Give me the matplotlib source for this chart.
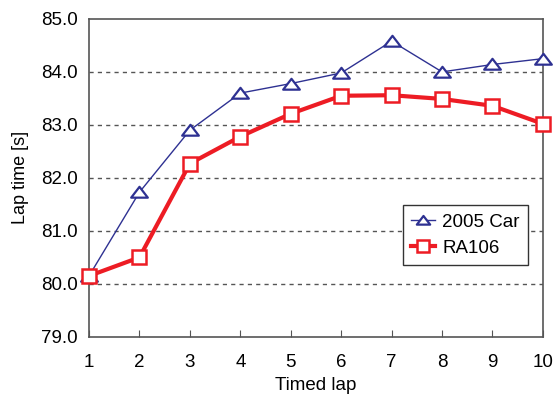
import matplotlib
matplotlib.use("Agg")
import matplotlib.pyplot as plt
from matplotlib.path import Path

laps = [1, 2, 3, 4, 5, 6, 7, 8, 9, 10]
car2005 = [80.15, 81.73, 82.9, 83.6, 83.78, 83.98, 84.58, 84.0, 84.14, 84.25]
ra106 = [80.15, 80.5, 82.27, 82.78, 83.21, 83.55, 83.56, 83.49, 83.36, 83.02]
yticks = [79.0, 80.0, 81.0, 82.0, 83.0, 84.0, 85.0]

plt.rcParams['font.family'] = ['Liberation Sans', 'DejaVu Sans']

fig = plt.figure(figsize=(5.54, 3.94), dpi=100)
ax = fig.add_axes([0.1607, 0.145, 0.8193, 0.807])

for y in yticks[1:-1]:
    ax.axhline(y, color='#555555', lw=1.0, ls=(0, (3, 3)), zorder=1)

tri = Path([(-1, -0.62), (1, -0.62), (0, 0.68), (-1, -0.62)],
           [Path.MOVETO, Path.LINETO, Path.LINETO, Path.CLOSEPOLY])

ax.plot(laps, car2005, color='#2E3192', lw=1.0, marker=tri, ms=12,
        mfc='white', mec='#2E3192', mew=1.6, label='2005 Car', zorder=3, clip_on=False)
ax.plot(laps, ra106, color='#ED1C24', lw=3.0, marker='s', ms=10.5,
        mfc='white', mec='#ED1C24', mew=1.8, label='RA106', zorder=4, clip_on=False)

ax.set_xlim(1, 10)
ax.set_ylim(79, 85)
ax.set_xticks(laps)
ax.set_yticks(yticks)
ax.set_yticklabels([f"{v:.1f}" for v in yticks])
ax.tick_params(axis='x', direction='in', length=5, color='#555555', labelsize=13.5, pad=12)
ax.tick_params(axis='y', direction='in', length=0, labelsize=13.5, pad=8)
for s in ax.spines.values():
    s.set_color('#555555')
    s.set_linewidth(1.2)

ax.set_xlabel('Timed lap', fontsize=13.5, labelpad=5)
ax.set_ylabel('Lap time [s]', fontsize=13, labelpad=8.5)

leg = ax.legend(loc='lower right', bbox_to_anchor=(0.967, 0.226), fontsize=13.5,
                frameon=True, fancybox=False, edgecolor='#333333', framealpha=1,
                handlelength=1.3, handletextpad=0.35, borderpad=0.45, labelspacing=0.45,
                borderaxespad=0, markerscale=0.8)
leg.get_frame().set_linewidth(1.0)

fig.savefig('out.png', dpi=100)
